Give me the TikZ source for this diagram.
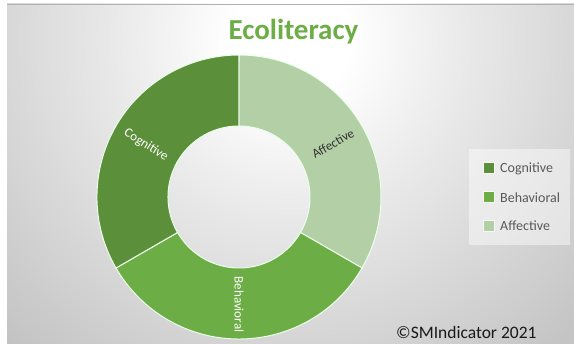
\documentclass[tikz,border=0pt]{standalone}
\usepackage{fontspec}
\setmainfont{Carlito}
\definecolor{cogn}{HTML}{5B8F3A}
\definecolor{behav}{HTML}{6DAD46}
\definecolor{affe}{HTML}{B3CFA6}
\definecolor{legtext}{HTML}{595959}
\pgfdeclareradialshading{bggrad}{\pgfpoint{0bp}{0bp}}{
  color(0bp)=(white);
  color(3.5bp)=(white);
  color(10bp)=(black!8);
  color(16.5bp)=(black!15);
  color(25bp)=(black!24);
  color(50bp)=(black!24)}
\tikzset{
  segment/.style={draw=white!92!green, line width=1pt},
  seglabel/.style={font=\fontsize{13}{15}\selectfont, inner sep=0pt},
  legendswatch/.style={minimum size=11pt, inner sep=0pt, draw=white!70!black!10, line width=0.3pt},
  legendtext/.style={anchor=west, inner sep=0pt, text=legtext, font=\fontsize{14}{16}\selectfont}
}
\begin{document}
\begin{tikzpicture}[x=1pt,y=-1pt]
\useasboundingbox (0,0) rectangle (574,344);
\fill[white] (0,0) rectangle (574,344);
\begin{scope}
  \clip (7,4) rectangle (574,344);
  \shade[shading=bggrad] (290,40) circle[radius=420];
\end{scope}
\draw[black!30, line width=0.7pt] (7,4) -- (574,4);
\coordinate (c) at (239,197);
\path[segment, fill=affe] (239,55) arc[start angle=-90,end angle=30,radius=142] -- ++(-61.5,-35.5) arc[start angle=30,end angle=-90,radius=71] -- cycle;
\path[segment, fill=behav] (362,268) arc[start angle=30,end angle=150,radius=142] -- ++(61.5,-35.5) arc[start angle=150,end angle=30,radius=71] -- cycle;
\path[segment, fill=cogn] (116,268) arc[start angle=150,end angle=270,radius=142] -- ++(0,71) arc[start angle=270,end angle=150,radius=71] -- cycle;
\node[seglabel, text=white, rotate=-32] (lc) at (146,145) {Cognitive};
\node[seglabel, text=black!80, rotate=30] (la) at (333,143.5) {Affective};
\node[seglabel, text=white, rotate=-90] (lb) at (239,304.5) {Behavioral};
\node[text=behav, font=\bfseries\fontsize{29}{33}\selectfont, inner sep=0pt] (title) at (293.5,32) {Ecoliteracy};
\fill[white, opacity=0.45] (469,149) rectangle (570,245);
\node[legendswatch, fill=cogn] (s1) at (489,168) {};
\node[legendswatch, fill=behav] (s2) at (489,197) {};
\node[legendswatch, fill=affe] (s3) at (489,226) {};
\node[legendtext] (t1) at (500,169) {Cognitive};
\node[legendtext] (t2) at (500,197.5) {Behavioral};
\node[legendtext] (t3) at (500,226) {Affective};
\node[anchor=west, inner sep=0pt, font=\fontsize{17.5}{20}\selectfont, text=black!90] (copy) at (396,332.5) {©SMIndicator 2021};
\end{tikzpicture}
\end{document}
